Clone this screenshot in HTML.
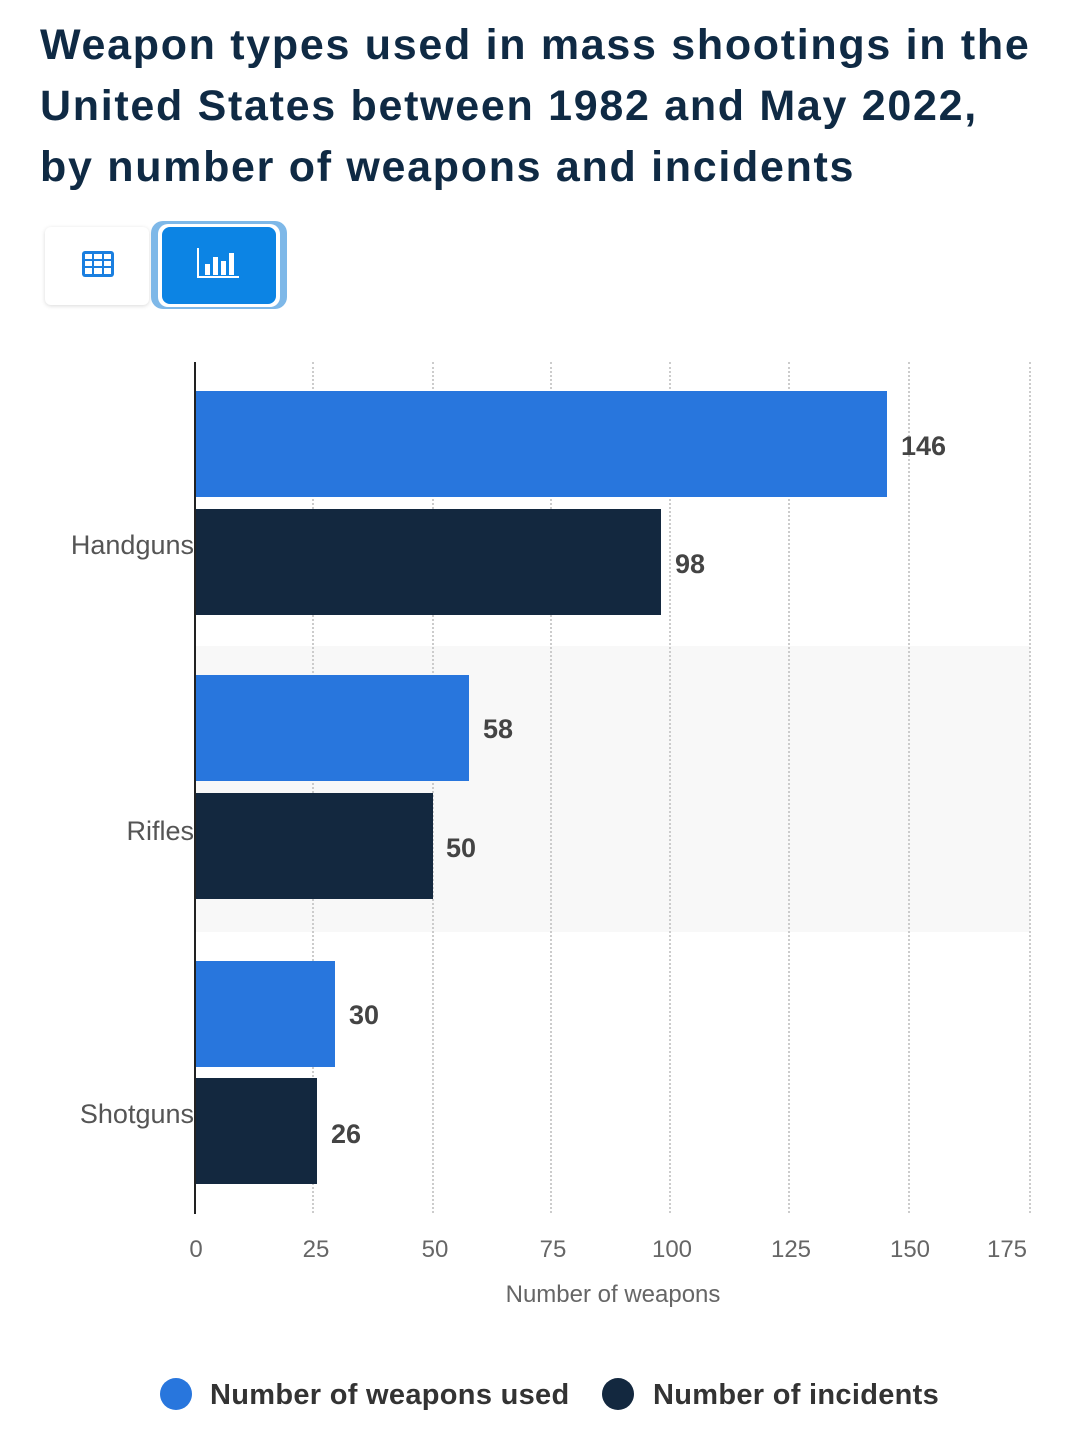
<!DOCTYPE html>
<html><head><style>
body{margin:0;width:1080px;height:1443px;background:#fff;font-family:"Liberation Sans",sans-serif;position:relative;overflow:hidden}
.t{position:absolute;left:40px;top:15px;font-size:43px;font-weight:bold;color:#0f2a44;line-height:61px;letter-spacing:1.7px}
.a{position:absolute}
.bar{position:absolute;left:196px;height:106px}
.b{background:#2876dd}.d{background:#13283f}
.v{position:absolute;font-size:27px;font-weight:bold;color:#444}
.g{position:absolute;top:362px;height:851px;border-left:2px dotted #ccc}
.xl{position:absolute;top:1236px;font-size:24px;color:#666;width:80px;text-align:center}
.cl{position:absolute;font-size:27px;color:#555;right:886px}
</style></head><body>
<div class="t">Weapon types used in mass shootings in the<br>United States between 1982 and May 2022,<br>by number of weapons and incidents</div>
<div class="a" style="left:45px;top:227px;width:104px;height:78px;background:#fff;border-radius:6px;box-shadow:0 1px 4px rgba(0,0,0,.15)"></div>
<svg class="a" style="left:81px;top:250px" width="34" height="28"><rect x="1" y="1" width="32" height="26" rx="3" fill="#1a7fe0"/><g fill="#fff"><rect x="4" y="4" width="7" height="5"/><rect x="13" y="4" width="8" height="5"/><rect x="23" y="4" width="7" height="5"/><rect x="4" y="11" width="7" height="5"/><rect x="13" y="11" width="8" height="5"/><rect x="23" y="11" width="7" height="5"/><rect x="4" y="18" width="7" height="6"/><rect x="13" y="18" width="8" height="6"/><rect x="23" y="18" width="7" height="6"/></g></svg>
<div class="a" style="left:151px;top:221px;width:136px;height:88px;background:#7eb8e8;border-radius:12px"></div>
<div class="a" style="left:158px;top:224px;width:122px;height:83px;background:#fff;border-radius:10px"></div>
<div class="a" style="left:162px;top:227px;width:114px;height:77px;background:#0c84e4;border-radius:8px"></div>
<svg class="a" style="left:197px;top:248px" width="44" height="34"><g fill="#fff"><rect x="0" y="0" width="2" height="30"/><rect x="0" y="28" width="42" height="2"/><rect x="8" y="16" width="5" height="11"/><rect x="16" y="9" width="5" height="18"/><rect x="24" y="13" width="5" height="14"/><rect x="32" y="5" width="5" height="22"/></g></svg>
<div class="a" style="left:196px;top:646px;width:834px;height:286px;background:#f8f8f8"></div>
<div class="g" style="left:312px"></div><div class="g" style="left:432px"></div><div class="g" style="left:550px"></div><div class="g" style="left:669px"></div><div class="g" style="left:788px"></div><div class="g" style="left:908px"></div><div class="g" style="left:1029px"></div>
<div class="a" style="left:194px;top:362px;width:2px;height:852px;background:#222"></div>
<div class="bar b" style="top:391px;width:691px"></div><div class="v" style="left:901px;top:431px">146</div>
<div class="bar d" style="top:509px;width:465px"></div><div class="v" style="left:675px;top:549px">98</div>
<div class="bar b" style="top:675px;width:273px"></div><div class="v" style="left:483px;top:714px">58</div>
<div class="bar d" style="top:793px;width:237px"></div><div class="v" style="left:446px;top:833px">50</div>
<div class="bar b" style="top:961px;width:139px"></div><div class="v" style="left:349px;top:1000px">30</div>
<div class="bar d" style="top:1078px;width:121px"></div><div class="v" style="left:331px;top:1119px">26</div>
<div class="cl" style="top:530px">Handguns</div><div class="cl" style="top:816px">Rifles</div><div class="cl" style="top:1099px">Shotguns</div>
<div class="xl" style="left:156px">0</div><div class="xl" style="left:276px">25</div><div class="xl" style="left:395px">50</div><div class="xl" style="left:513px">75</div><div class="xl" style="left:632px">100</div><div class="xl" style="left:751px">125</div><div class="xl" style="left:870px">150</div><div class="xl" style="left:967px">175</div>
<div class="a" style="left:0;width:1226px;text-align:center;top:1281px;font-size:24px;color:#666">Number of weapons</div>
<div class="a" style="left:160px;top:1378px;width:32px;height:32px;border-radius:50%;background:#2876dd"></div>
<div class="a" style="left:210px;top:1379px;font-size:29px;font-weight:bold;color:#333;letter-spacing:0.3px">Number of weapons used</div>
<div class="a" style="left:602px;top:1378px;width:32px;height:32px;border-radius:50%;background:#13283f"></div>
<div class="a" style="left:653px;top:1379px;font-size:29px;font-weight:bold;color:#333;letter-spacing:0.3px">Number of incidents</div>
</body></html>
